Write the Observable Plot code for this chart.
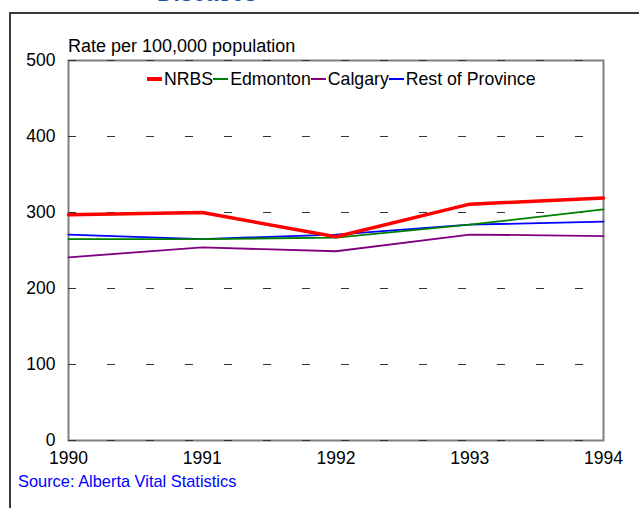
<!DOCTYPE html>
<html><head><meta charset="utf-8">
<script src="https://cdn.jsdelivr.net/npm/d3@7"></script>
<script src="https://cdn.jsdelivr.net/npm/@observablehq/plot@0.6"></script>
<style>
html,body{margin:0;padding:0;background:#fff;overflow:hidden;width:639px;height:508px;font-family:"Liberation Sans",Arial,sans-serif;}
#wrap{position:relative;width:639px;height:508px;overflow:hidden;}
#title{position:absolute;left:157px;top:-18px;font-size:23px;font-weight:bold;color:#1a52a6;line-height:23px;white-space:nowrap;}
#border{position:absolute;left:9px;top:12px;width:700px;height:600px;border:2px solid #3a3a3a;box-sizing:border-box;}
#chart{position:absolute;left:0;top:0;}
#ylabel{position:absolute;left:68px;top:36px;font-size:18px;line-height:20px;color:#000;white-space:nowrap;}
#legend{position:absolute;left:147px;top:69px;display:flex;align-items:center;font-size:17.7px;line-height:20px;color:#000;white-space:nowrap;}
.sw{display:inline-block;width:15px;margin-right:2px;}
#source{position:absolute;left:18px;top:471px;font-size:16.4px;line-height:20px;color:#0000ff;white-space:nowrap;}
</style>
</head><body>
<div id="wrap">
  <div id="title">Diseases</div>
  <div id="border"></div>
  <div id="chart"></div>
  <div id="ylabel">Rate per 100,000 population</div>
  <div id="legend"></div>
  <div id="source">Source: Alberta Vital Statistics</div>
</div>
<script>
const years = [1990, 1991, 1992, 1993, 1994];
const nrbs = [297, 300, 268, 311, 319];
const edmonton = [265, 265, 267, 284, 304];
const calgary = [241, 254, 249, 271, 269];
const rest = [271, 265, 271, 284, 288];
const seriesNames = ["NRBS", "Edmonton", "Calgary", "Rest of Province"];
const seriesColors = ["#ff0000", "#008000", "#800080", "#0000ff"];
const seriesWidths = [3.5, 1.8, 1.8, 1.8];
const yTicks = [0, 100, 200, 300, 400, 500];
const xTicks = years;

const values = [nrbs, edmonton, calgary, rest];
const rows = [];
seriesNames.forEach((s, i) => years.forEach((y, j) => rows.push({series: s, year: y, value: values[i][j]})));
const byName = s => rows.filter(r => r.series === s);
const drawOrder = ["Rest of Province", "Edmonton", "Calgary", "NRBS"];

const plot = Plot.plot({
  width: 639,
  height: 508,
  marginLeft: 68,
  marginRight: 36,
  marginTop: 60,
  marginBottom: 68,
  style: {background: "transparent", fontFamily: "Liberation Sans, Arial, sans-serif", fontSize: "17.5px", color: "#000"},
  x: {domain: [1990, 1994], ticks: xTicks, tickFormat: d => String(d), tickSize: 0, tickPadding: 11, label: null},
  y: {domain: [0, 500], ticks: yTicks, tickSize: 0, tickPadding: 13, label: null},
  marks: [
    Plot.frame({stroke: "#808080", strokeWidth: 2}),
    Plot.ruleY(yTicks, {stroke: "#333", strokeWidth: 1.2, strokeDasharray: "8,31"}),
    ...drawOrder.map(s => {
      const i = seriesNames.indexOf(s);
      return Plot.line(byName(s), {x: "year", y: "value", stroke: seriesColors[i], strokeWidth: seriesWidths[i], strokeLinejoin: "miter"});
    })
  ]
});
plot.querySelectorAll("text").forEach(t => t.setAttribute("fill", "#000"));
document.getElementById("chart").appendChild(plot);

const legend = document.getElementById("legend");
seriesNames.forEach((s, i) => {
  const sw = document.createElement("span");
  sw.className = "sw";
  sw.style.height = (i === 0 ? 3.5 : 2) + "px";
  sw.style.background = seriesColors[i];
  legend.appendChild(sw);
  const t = document.createElement("span");
  t.textContent = s;
  legend.appendChild(t);
});
</script>
</body></html>
